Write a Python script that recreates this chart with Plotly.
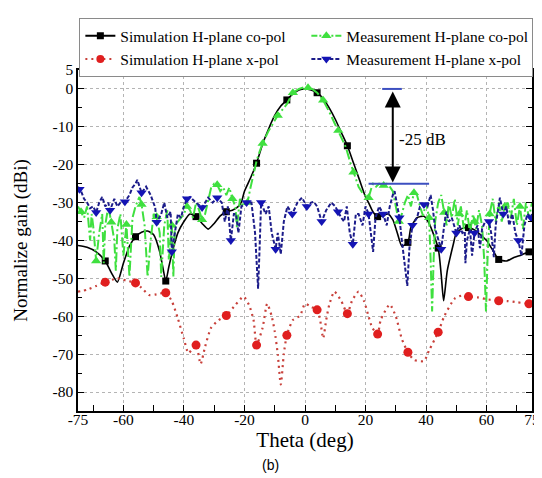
import plotly.graph_objects as go

# ---------------- data ----------------
sim_co_theta = [-75, -72, -69, -66, -64, -62, -60, -58, -56, -54, -52, -50, -48, -47, -46, -45, -43.5, -42, -40, -38,
                -36, -34, -32, -30, -28, -26, -24, -22, -21, -20, -18, -16, -14, -12, -10, -8, -6, -4, -2, 0,
                2, 4, 6, 8, 10, 12, 14, 16, 18, 20, 21, 22.5, 24, 25.5, 27.4, 29, 30.5, 32, 34, 35, 37, 39.3,
                41, 44, 45, 45.8, 47, 49, 50, 52, 54, 56, 58, 60, 62, 64, 66.6, 69, 71.5, 74, 75]
sim_co_db = [-41.3, -41.8, -43, -45.4, -48.5, -51, -46, -41.5, -39, -37.8, -37.5, -38.5, -43, -47, -50.7, -47, -42, -38, -35, -33,
             -33.7, -35.5, -37, -35.5, -33.5, -32.4, -32, -31, -29.8, -27, -23.5, -19.6, -14.5, -10.5, -7, -4.5, -2.9, -1.3, -0.3, 0,
             -0.3, -1, -2.5, -5, -8, -11.5, -15, -19.5, -24, -28.5, -30, -32.5, -33.7, -33.5, -33, -34.5, -38, -41.5, -40.5, -36.5, -34, -33.6,
             -35.5, -42, -49, -55.9, -48, -41, -38, -36.8, -36.6, -37.2, -38.5, -40, -42.5, -45, -45.4, -44.5, -43.8, -43, -43]
sim_co_mk_theta = [-66, -56, -46, -36, -26, -16, -6, 4, 14, 24, 34, 44, 54, 64, 74]
sim_co_mk_db = [-45.4, -39, -50.7, -33.7, -32.4, -19.6, -2.9, -1, -15, -33.7, -40.5, -42, -36.6, -45, -43]

meas_co_theta = [-75, -74, -73, -72, -71.5, -71, -70.5, -70, -69, -68, -67, -66.5, -66, -65, -64, -63, -62.5, -62, -61, -60,
                 -59, -58, -57, -56, -55, -54.7, -54, -53, -52, -51, -50, -49, -48, -47.5, -46.5, -45.5, -45, -44, -43.5, -43,
                 -42, -41, -40, -39, -38, -37, -36, -35, -34, -33, -32, -31, -30, -29, -28, -27, -26, -25, -24, -23,
                 -22.5, -21.5, -20.5, -19, -18, -17, -16, -15, -14, -12, -10, -9, -6, -4, -2, 0, 1, 2, 4, 6,
                 8, 11, 12, 13.5, 15, 16, 16.8, 17.7, 19, 21, 22, 22.5, 23.5, 24.5, 26, 26.5, 27, 28, 29, 30,
                 31, 32, 33, 34, 35, 36, 37, 38, 39, 40, 41, 41.5, 42, 42.5, 43, 44, 45, 46, 46.8, 47.5,
                 48.5, 49.5, 50.5, 51, 51.5, 52.5, 53.5, 54.5, 55.5, 56, 56.5, 57.5, 58.5, 59.2, 59.8, 60.3, 61, 62, 63, 64,
                 65, 66, 67, 68, 69, 70, 71, 72, 73, 74, 75]
meas_co_db = [-31, -32.4, -34, -31, -35.8, -40, -33, -36, -45.4, -38, -33, -46, -36, -31, -35.2, -40, -48, -37, -33, -44,
              -35.8, -49.6, -34, -31, -29, -28.5, -30.5, -36, -49.6, -40, -33, -33.7, -38, -49.6, -36, -32, -45, -36, -49.6, -36,
              -35, -34, -33, -31, -32, -34, -30, -32, -34.5, -33, -29, -26, -25, -25.3, -27, -26, -28, -26, -29, -31,
              -36.5, -29, -31, -30, -26, -22, -19, -16.5, -14.4, -11, -8.5, -7, -4, -1, 0, 0.5, 0.3, 0.2, -1, -3,
              -6, -11, -12.5, -15.4, -19.5, -22, -24, -25.8, -27.5, -28.7, -26, -25, -25.8, -25, -25.5, -25, -25, -25.8, -27, -31,
              -35, -33, -30, -28, -31, -27.4, -28, -31, -33.5, -30, -34, -45, -58.7, -45, -35, -30, -28, -32.6, -36, -30,
              -34, -29, -36, -33, -31, -37, -32, -38, -33, -35, -37, -32, -36, -45, -58.7, -45, -33, -29, -35, -30,
              -35, -31, -30, -34, -29, -36, -31, -37, -30, -34, -30]
meas_co_mk_theta = [-74, -69, -64, -59, -54, -49, -44, -39, -34, -29, -24, -19, -14, -9, -4, 1, 6, 11, 16, 21,
                    26, 31, 36, 41, 46, 51, 56, 61, 66, 71]
meas_co_mk_db = [-32.4, -45.4, -35.2, -35.8, -30.5, -33.7, -36, -31, -34.5, -25.3, -29, -30, -14.4, -7, -1, 0.3, -3, -11, -22, -28.7,
                 -25.5, -35, -27.4, -34, -32.6, -33, -35, -33, -31, -31]

sim_x_theta = [-75, -72, -69, -66, -62, -59, -56, -54, -51.5, -49, -46, -44, -42, -40, -38.5, -36, -34.5, -33, -31, -28.5,
               -26, -23, -20.3, -18.5, -17, -16, -14, -12.5, -11, -10, -9, -8, -7, -6, -4, -1.6, 0, 2, 4, 5,
               6, 7, 8, 9.7, 12, 14, 15.5, 17.7, 19.5, 21, 22.2, 24, 25, 28, 30, 32, 34, 36, 39.3, 41,
               44, 46, 49.5, 52, 54, 57, 60, 64, 67, 70, 74, 75]
sim_x_db = [-53.5, -53, -52, -51, -50, -50.6, -51.2, -52.5, -54.4, -54.2, -53.8, -56, -60.6, -66, -69.7, -67.6, -72.6, -68, -63, -61,
            -59.8, -57, -54.8, -57, -61, -67.6, -63, -56.7, -60, -64, -70, -78, -70, -65, -61, -59.8, -56.7, -57.5, -58.3, -61,
            -65.8, -61, -57, -53.5, -56, -59.3, -56, -53.5, -56, -60, -63, -64.7, -61, -56.9, -60, -66, -69.5, -71.5, -71.8, -69,
            -64.2, -60, -55.3, -54.5, -54.8, -55, -55.5, -55.9, -56, -56.3, -56.7, -56.7]
sim_x_mk_theta = [-66, -56, -46, -36, -26, -16, -6, 4, 14, 24, 34, 44, 54, 64, 74]
sim_x_mk_db = [-51, -51.2, -53.8, -67.6, -59.8, -67.6, -65, -58.3, -59.3, -64.7, -69.5, -64.2, -54.8, -55.9, -56.7]

meas_x_theta = [-75, -74.5, -74, -73, -72, -71, -70, -69, -68, -67, -66, -65, -64.4, -63, -62, -61, -59.5, -58, -57, -56,
                -55.4, -54, -52.5, -51, -50, -49.5, -49, -47.5, -46.5, -45.5, -44.4, -44, -43, -42, -41, -40, -39, -38, -36, -34,
                -33, -32, -30.5, -29, -27.5, -26.5, -25.5, -24.5, -23.5, -22.8, -22, -21, -19.3, -17.7, -16.5, -15.5, -15, -14.5, -13, -12,
                -11, -10, -9.7, -9, -8, -7, -5.8, -4.2, -2.5, -1, 0.6, 2, 2.9, 4, 5.5, 7, 8.7, 10, 10.9, 12,
                12.9, 13.8, 14.8, 15.8, 16.8, 17.7, 19, 20, 21, 21.8, 22.5, 23.3, 24.5, 25.8, 27, 28, 29, 29.6, 30.5, 31.2,
                32, 32.8, 33.8, 34.5, 35.5, 37, 38, 39.3, 40.5, 41.5, 42.3, 43, 44, 45, 46, 46.7, 47.5, 48.5, 50, 51,
                52, 52.8, 53, 53.5, 54.5, 55.2, 56, 57, 57.8, 58.5, 59.5, 60.8, 61.5, 62.4, 63, 64.4, 65.5, 66.5, 67.5, 68.5,
                69.5, 70.5, 71.5, 72.5, 73.5, 74.7, 75]
meas_x_db = [-25.8, -26.5, -27, -29, -30, -31.5, -31, -32.6, -30, -28.5, -31, -30, -32, -29, -31, -30, -29.8, -28, -26, -25,
             -24, -27.4, -25.8, -28, -30, -31.3, -35.2, -33, -30, -34, -32.4, -43, -38, -33, -34, -31, -29, -28.5, -30, -31.3,
             -30, -28.7, -30, -28.7, -30, -35, -31, -40, -33, -33, -38, -31, -30, -30, -38, -52.7, -42, -30, -33, -31,
             -38, -41, -42.3, -38, -43.6, -35, -31, -33, -30, -28.7, -31, -30, -29.8, -31, -35, -32, -30, -31, -32.4, -34,
             -35, -31, -38, -41, -33, -33, -36, -31, -33, -38, -43, -34, -31, -33, -36, -31, -28, -27, -31, -34,
             -40, -45, -52, -42, -36, -34, -31, -30.5, -31, -28, -32, -37, -40, -42.3, -36, -32.4, -35, -34, -38, -36,
             -38, -37.6, -46, -40, -37, -44, -38, -36, -42, -37, -35, -35, -38, -44.4, -36, -28.7, -33, -31, -36, -33,
             -38, -40, -44, -36, -33, -34, -33]
meas_x_mk_theta = [-74.5, -69, -64.4, -59.5, -54, -49, -44, -39, -34, -29, -24.5, -19.3, -14.5, -9.7, -4.2, 0.6, 5.5, 10.9, 15.8, 21,
                   25.8, 31.2, 35.5, 39.3, 45, 50, 56, 60.8, 65.5, 70.5, 74.7]
meas_x_mk_db = [-26.5, -32.6, -32, -29.8, -27.4, -35.2, -43, -29, -31.3, -28.7, -40, -30, -30, -42.3, -33, -31, -35, -32.4, -41, -33,
                -33, -34, -36, -30.5, -42.3, -38, -38, -35, -33, -40, -34]

x_tick_vals = [-75, -60, -40, -20, 0, 20, 40, 60, 75]
x_tick_text = ["-75", "-60", "-40", "-20", "0", "20", "40", "60", "75"]
y_tick_vals = [5, 0, -10, -20, -30, -40, -50, -60, -70, -80]
y_tick_text = ["5", "0", "-10", "-20", "-30", "-40", "-50", "-60", "-70", "-80"]

# annotation values
ref_top_db = 0
ref_low_db = -25
arrow_theta = 29

SERIF = "Liberation Serif, Times New Roman, serif"

C_BLACK = "#000000"
C_GREEN = "#3fe03f"
C_RED_LINE = "#c8403a"
C_RED_MK = "#e01f1f"
C_BLUE_LINE = "#1c1c8a"
C_BLUE_MK = "#1414b4"

fig = go.Figure()

# Simulation co-pol
fig.add_trace(go.Scatter(x=sim_co_theta, y=sim_co_db, mode="lines", line=dict(color=C_BLACK, width=1.6, shape="spline", smoothing=0.6),
                         showlegend=False, hoverinfo="skip"))
fig.add_trace(go.Scatter(x=sim_co_mk_theta, y=sim_co_mk_db, mode="markers",
                         marker=dict(symbol="square", size=7, color=C_BLACK), showlegend=False))
# Measurement co-pol
fig.add_trace(go.Scatter(x=meas_co_theta, y=meas_co_db, mode="lines", line=dict(color=C_GREEN, width=2, dash="10px,3px,2px,3px"),
                         showlegend=False, hoverinfo="skip"))
fig.add_trace(go.Scatter(x=meas_co_mk_theta, y=meas_co_mk_db, mode="markers",
                         marker=dict(symbol="triangle-up", size=9, color=C_GREEN), showlegend=False))
# Simulation x-pol
fig.add_trace(go.Scatter(x=sim_x_theta, y=sim_x_db, mode="lines", line=dict(color=C_RED_LINE, width=2.2, dash="2px,4px", shape="spline", smoothing=0.6),
                         showlegend=False, hoverinfo="skip"))
fig.add_trace(go.Scatter(x=sim_x_mk_theta, y=sim_x_mk_db, mode="markers",
                         marker=dict(symbol="circle", size=9, color=C_RED_MK), showlegend=False))
# Measurement x-pol
fig.add_trace(go.Scatter(x=meas_x_theta, y=meas_x_db, mode="lines", line=dict(color=C_BLUE_LINE, width=2, dash="4px,2px"),
                         showlegend=False, hoverinfo="skip"))
fig.add_trace(go.Scatter(x=meas_x_mk_theta, y=meas_x_mk_db, mode="markers",
                         marker=dict(symbol="triangle-down", size=9, color=C_BLUE_MK), showlegend=False))

# legend entries
fig.add_trace(go.Scatter(x=[None], y=[None], mode="lines+markers", name="Simulation H-plane co-pol",
                         line=dict(color=C_BLACK, width=2), marker=dict(symbol="square", size=7, color=C_BLACK)))
fig.add_trace(go.Scatter(x=[None], y=[None], mode="lines+markers", name="Measurement H-plane co-pol",
                         line=dict(color=C_GREEN, width=2, dash="6px,2px,2px,2px"), marker=dict(symbol="triangle-up", size=9, color=C_GREEN)))
fig.add_trace(go.Scatter(x=[None], y=[None], mode="lines+markers", name="Simulation H-plane x-pol",
                         line=dict(color=C_RED_LINE, width=2, dash="2px,4px"), marker=dict(symbol="circle", size=8, color=C_RED_MK)))
fig.add_trace(go.Scatter(x=[None], y=[None], mode="lines+markers", name="Measurement H-plane x-pol",
                         line=dict(color=C_BLUE_LINE, width=2, dash="4px,2px"), marker=dict(symbol="triangle-down", size=9, color=C_BLUE_MK)))

# -25 dB marker lines
fig.add_shape(type="line", x0=25.5, x1=32, y0=ref_top_db, y1=ref_top_db, line=dict(color="#3c4fc0", width=2))
fig.add_shape(type="line", x0=21, x1=41, y0=ref_low_db, y1=ref_low_db, line=dict(color="#3c4fc0", width=2))
fig.add_annotation(x=arrow_theta, y=ref_low_db + 0.3, ax=arrow_theta, ay=ref_top_db - 0.3, axref="x", ayref="y",
                   xref="x", yref="y", text="", showarrow=True, arrowhead=2, arrowside="end+start",
                   arrowsize=1.6, arrowwidth=2, arrowcolor="#000000", standoff=0, startstandoff=0)
fig.add_annotation(x=30.5, y=-13.3, xref="x", yref="y", text="-25 dB", showarrow=False, xanchor="left",
                   font=dict(family=SERIF, size=17, color="#000"))
fig.add_annotation(x=0.425, y=-0.189, xref="paper", yref="paper", text="(b)", showarrow=False,
                   font=dict(family="Liberation Sans, Arial, sans-serif", size=14, color="#000"))

axis_common = dict(showline=True, linecolor="black", linewidth=1.5, mirror="ticks", ticks="inside", ticklen=6,
                   tickcolor="black", tickwidth=1, showgrid=True, gridcolor="#b4b4b4", griddash="dot", gridwidth=1,
                   zeroline=False, tickfont=dict(family=SERIF, size=15.5, color="#000"))

fig.update_xaxes(range=[-75, 75], tickmode="array", tickvals=x_tick_vals, ticktext=x_tick_text,
                 minor=dict(tickvals=[-70, -50, -30, -10, 10, 30, 50, 70], ticks="inside", ticklen=6, tickcolor="black", showgrid=False),
                 title=dict(text="Theta (deg)", font=dict(family=SERIF, size=21, color="#000"), standoff=2),
                 ticklabelstandoff=-6,
                 **axis_common)
fig.update_yaxes(range=[-85, 5], tickmode="array", tickvals=y_tick_vals, ticktext=y_tick_text,
                 minor=dict(tickvals=[-5, -15, -25, -35, -45, -55, -65, -75], ticks="inside", ticklen=4, tickcolor="black", showgrid=False),
                 title=dict(text="Normalize gain (dBi)", font=dict(family=SERIF, size=19, color="#000"), standoff=20),
                 **axis_common)

fig.update_layout(
    width=542, height=478,
    margin=dict(l=70, r=10, t=59, b=75),
    paper_bgcolor="white", plot_bgcolor="white",
    legend=dict(orientation="h", x=0.003, y=1.152, xanchor="left", yanchor="top",
                entrywidth=181, entrywidthmode="pixels", itemwidth=30,
                font=dict(family=SERIF, size=15.5, color="#000"),
                bordercolor="#8a8a8a", borderwidth=1, bgcolor="white", tracegroupgap=0),
    showlegend=True,
)

fig.write_html("out.html")
